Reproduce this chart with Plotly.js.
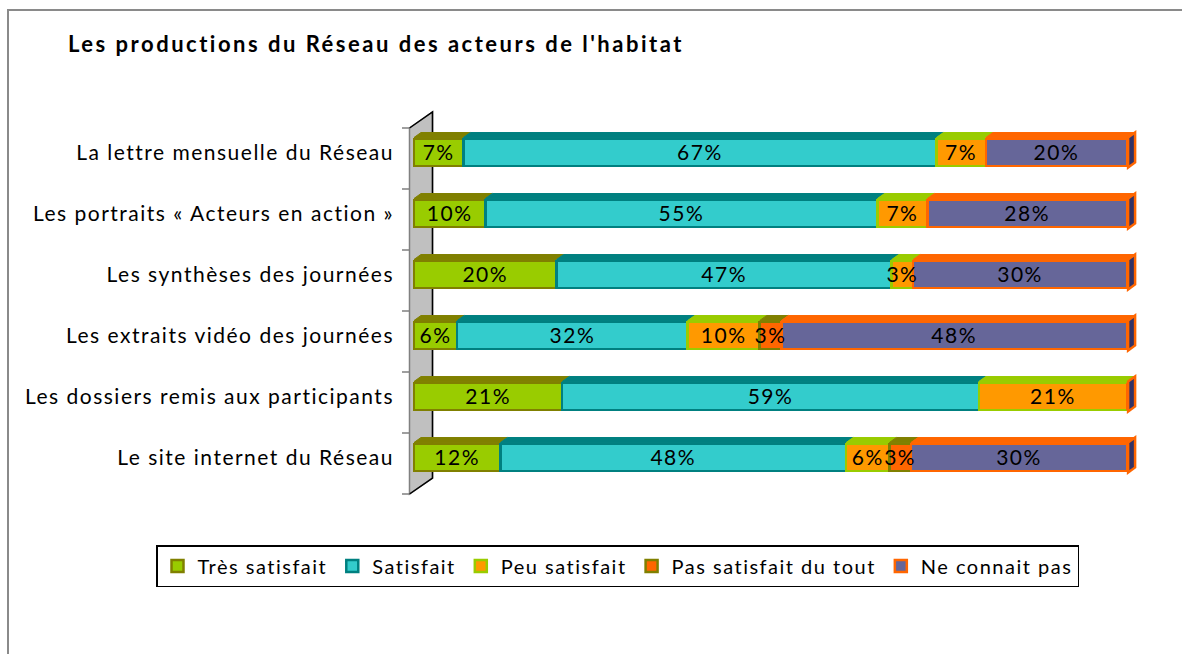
<!DOCTYPE html>
<html>
<head>
<meta charset="utf-8">
<script src="https://cdn.plot.ly/plotly-3.0.1.min.js"></script>
<style>
html,body{margin:0;padding:0;background:#fff;}
#chart{width:1182px;height:654px;}
.ytick text{letter-spacing:1.5px;}
.legendtext{letter-spacing:1.5px;}
.gtitle{letter-spacing:2.5px;}
.textpoint text{letter-spacing:1.5px;}
</style>
</head>
<body>
<div id="chart"></div>
<script>
// ---- data ----
const categories = [
  "La lettre mensuelle du Réseau",
  "Les portraits « Acteurs en action »",
  "Les synthèses des journées",
  "Les extraits vidéo des journées",
  "Les dossiers remis aux participants",
  "Le site internet du Réseau"
];
const seriesNames = ["Très satisfait", "Satisfait", "Peu satisfait", "Pas satisfait du tout", "Ne connait pas"];
const tresSatisfait = [7, 10, 20, 6, 21, 12];
const satisfait     = [67, 55, 47, 32, 59, 48];
const peuSatisfait  = [7, 7, 3, 10, 21, 6];
const pasSatisfait  = [0, 0, 0, 3, 0, 3];
const neConnaitPas  = [20, 28, 30, 48, 0, 30];
const titleText = "Les productions du Réseau des acteurs de l'habitat";

// ---- styles ----
const fillColors = ["#99CC00", "#33CCCC", "#FF9900", "#FF6600", "#666699"];
const lineColors = ["#808000", "#008080", "#99CC00", "#808000", "#FF6600"];
const FONT = "Lato, 'Open Sans', sans-serif";
const barW = 0.45;

const seriesValues = [tresSatisfait, satisfait, peuSatisfait, pasSatisfait, neConnaitPas];
const yIdx = categories.map((c, i) => i);
const totals = yIdx.map(i => seriesValues.reduce((a, sv) => a + sv[i], 0));

const traces = seriesValues.map((vals, s) => ({
  type: "bar",
  orientation: "h",
  name: seriesNames[s],
  x: vals,
  y: yIdx,
  width: barW,
  marker: {color: fillColors[s], line: {color: lineColors[s], width: 2.5}},
  hoverinfo: "name+x"
}));

// value labels drawn on top of all bars (centre of each normalised segment)
const lblX = [], lblY = [], lblT = [];
yIdx.forEach(i => {
  let cum = 0;
  seriesValues.forEach(sv => {
    const v = sv[i] / totals[i] * 100;
    if (sv[i] > 0) { lblX.push(cum + v / 2); lblY.push(i + 0.04); lblT.push(sv[i] + "%"); }
    cum += v;
  });
});
traces.push({
  type: "scatter", mode: "text", x: lblX, y: lblY, text: lblT,
  textposition: "middle center",
  textfont: {family: FONT, size: 21, color: "#000"},
  showlegend: false, hoverinfo: "skip", cliponaxis: false
});

// ---- geometry helpers (plot area in px) ----
const W = 1182, H = 654;
const L = 409, R = 1137, T = 122, B = 488;
const px = x => (x - L) / (R - L);
const py = y => (B - y) / (B - T);

const shapes = [];
// chart frame (gray)
shapes.push({type: "path", xref: "paper", yref: "paper", layer: "below",
  path: `M ${px(8)},${py(660)} L ${px(8)},${py(10)} L ${px(1190)},${py(10)}`,
  line: {color: "#8a8a8a", width: 2}});
// 3D wall
const n = categories.length;
const fTop = 128, band = 61, fBot = fTop + band * n, depthX = 23, depthY = 16;
shapes.push({type: "path", xref: "paper", yref: "paper", layer: "below",
  path: `M ${px(409.5)},${py(fTop)} L ${px(409.5 + depthX)},${py(fTop - depthY)} L ${px(409.5 + depthX)},${py(fBot - depthY)} L ${px(409.5)},${py(fBot)} Z`,
  fillcolor: "#C0C0C0", line: {color: "#808080", width: 1.5}});
shapes.push({type: "path", xref: "paper", yref: "paper", layer: "below",
  path: `M ${px(409.5)},${py(fTop)} L ${px(409.5 + depthX)},${py(fTop - depthY)} L ${px(409.5 + depthX)},${py(fBot - depthY)} L ${px(409.5)},${py(fBot)}`,
  line: {color: "#000", width: 1.5}});
let tickPath = "";
for (let k = 0; k <= n; k++) {
  const yy = fTop + band * k;
  tickPath += `M ${px(402)},${py(yy)} L ${px(409.5)},${py(yy)} `;
}
shapes.push({type: "path", xref: "paper", yref: "paper", layer: "below",
  path: tickPath, line: {color: "#808080", width: 1.5}});

// 3D top faces and end faces of bars (data coordinates)
const pxPerUnitX = (R - L) / (101.4 + 0.7);
const dx = 7 / pxPerUnitX, dy = 5 / band, edge = 1.25 / band;
yIdx.forEach(i => {
  let cum = 0;
  const yt = i - barW / 2 - edge, yb = i + barW / 2 + edge;
  seriesValues.forEach((sv, s) => {
    const v = sv[i] / totals[i] * 100;
    if (v <= 0) return;
    const x0 = cum, x1 = cum + v;
    shapes.push({type: "path", xref: "x", yref: "y", layer: "below",
      path: `M ${x0},${yt} L ${x0 + dx},${yt - dy} L ${x1 + dx},${yt - dy} L ${x1},${yt} Z`,
      fillcolor: lineColors[s], line: {color: lineColors[s], width: 1}});
    cum = x1;
  });
  const xe = cum + 0.15;
  shapes.push({type: "path", xref: "x", yref: "y", layer: "above",
    path: `M ${xe},${yt} L ${xe + dx},${yt - dy} L ${xe + dx},${yb - dy} L ${xe},${yb} Z`,
    fillcolor: "#333366", line: {color: lineColors[4], width: 2.5}});
});

const layout = {
  width: W, height: H,
  paper_bgcolor: "#fff", plot_bgcolor: "rgba(0,0,0,0)",
  margin: {l: L, r: W - R, t: T, b: H - B, pad: 0},
  barmode: "stack",
  barnorm: "percent",
  showlegend: true,
  font: {family: FONT, color: "#000"},
  title: {
    text: "<b>" + titleText + "</b>",
    xref: "container", yref: "container",
    x: 68 / W, xanchor: "left",
    y: 1 - 44 / H, yanchor: "middle",
    font: {family: FONT, size: 22, color: "#000"}
  },
  xaxis: {
    range: [-0.7, 101.4], visible: false, fixedrange: true
  },
  yaxis: {
    range: [n - 0.5, -0.5],
    tickmode: "array", tickvals: yIdx, ticktext: categories,
    ticks: "", showline: false, showgrid: false, zeroline: false,
    ticklabelstandoff: 14,
    tickfont: {family: FONT, size: 21, color: "#000"},
    fixedrange: true
  },
  legend: {
    orientation: "h",
    x: px(156), xanchor: "left",
    y: py(545), yanchor: "top",
    bordercolor: "#000", borderwidth: 1.5,
    bgcolor: "#fff",
    font: {family: FONT, size: 20, color: "#000"},
    itemwidth: 30,
    traceorder: "normal"
  },
  shapes: shapes
};

Plotly.newPlot("chart", traces, layout, {displayModeBar: false, staticPlot: true});
</script>
</body>
</html>
